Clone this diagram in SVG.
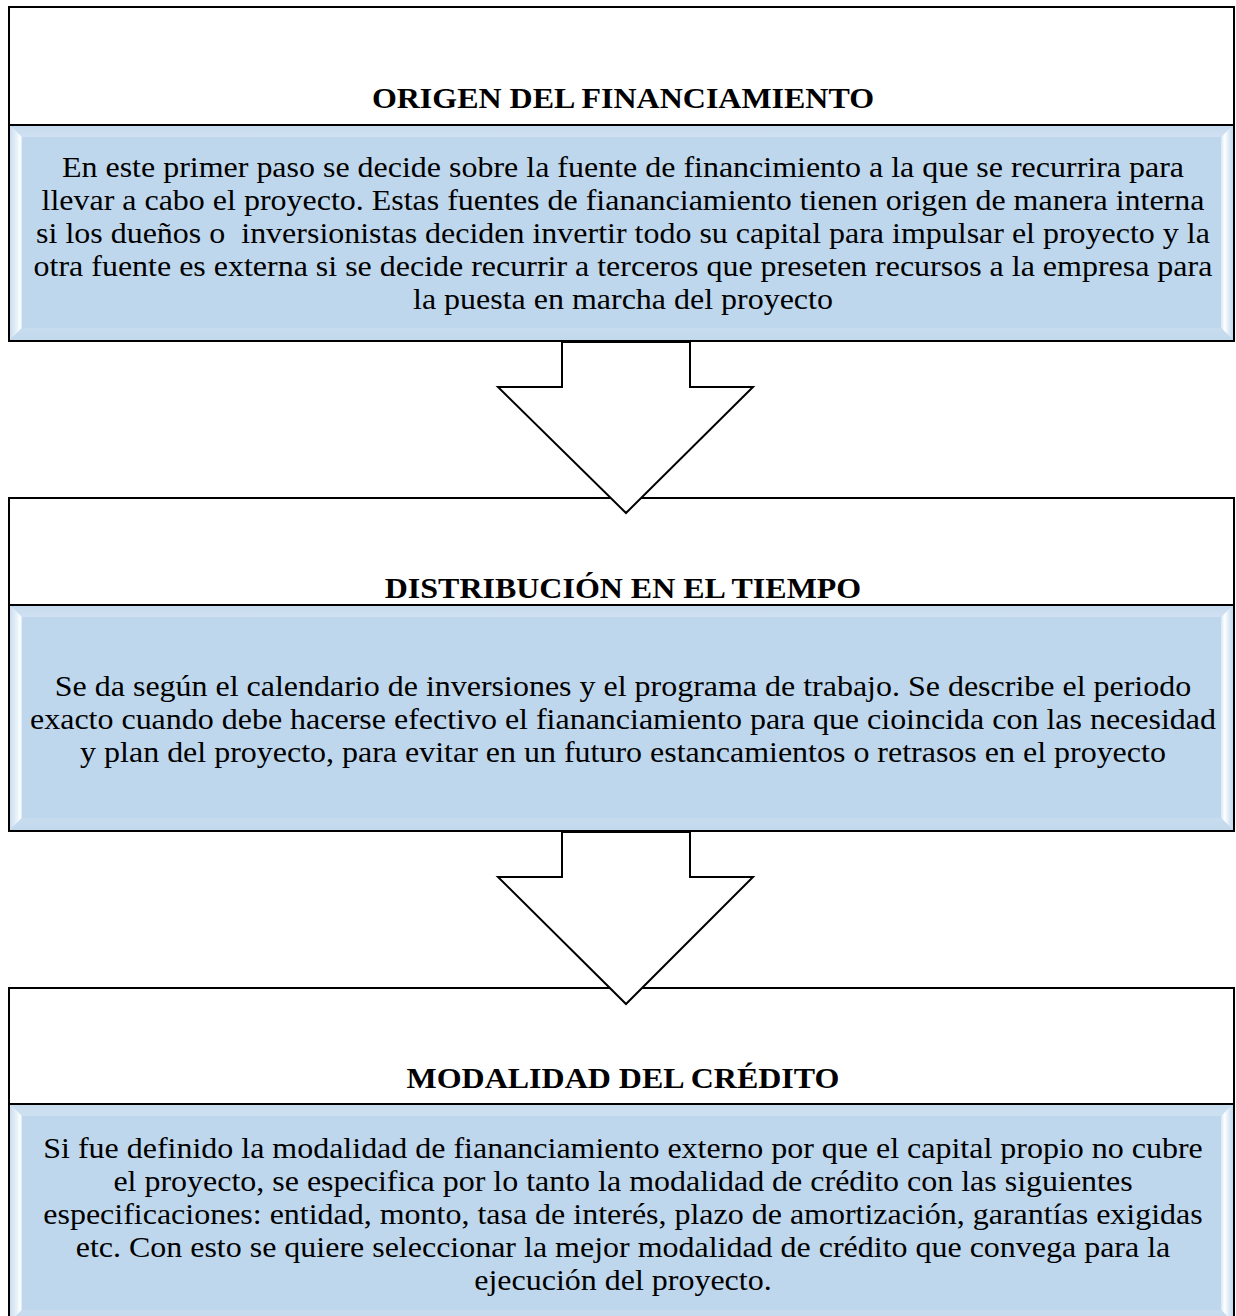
<svg xmlns="http://www.w3.org/2000/svg" width="1236" height="1316" viewBox="0 0 1236 1316">
<style>
.frame{fill:#fff;stroke:#000;stroke-width:2}
.div{stroke:#000;stroke-width:2}
.body{fill:#BFD7EC}
.title{font-family:"Liberation Serif","Times New Roman",serif;font-weight:bold;font-size:29px;fill:#000;text-anchor:middle}
.txt{font-family:"Liberation Serif","Times New Roman",serif;font-size:29px;fill:#000;text-anchor:middle;white-space:pre}
.arrow{fill:#fff;stroke:#000;stroke-width:2;stroke-linejoin:miter}
</style>
<defs>
<linearGradient id="gl" x1="0" y1="0" x2="1" y2="0">
<stop offset="0" stop-color="#C9DDEF"/>
<stop offset="0.6" stop-color="#EAF3FB"/>
<stop offset="0.85" stop-color="#FFFFFF"/>
<stop offset="1" stop-color="#D6E6F4"/>
</linearGradient>
<linearGradient id="gr" x1="0" y1="0" x2="1" y2="0">
<stop offset="0" stop-color="#D6E6F4"/>
<stop offset="0.3" stop-color="#FFFFFF"/>
<stop offset="0.7" stop-color="#D9E8F5"/>
<stop offset="1" stop-color="#C2D8EC"/>
</linearGradient>
<linearGradient id="gt" x1="0" y1="0" x2="0" y2="1">
<stop offset="0" stop-color="#C6DBEE"/>
<stop offset="1" stop-color="#CFE1F1"/>
</linearGradient>
<linearGradient id="gb" x1="0" y1="0" x2="0" y2="1">
<stop offset="0" stop-color="#C8DCEE"/>
<stop offset="1" stop-color="#C2D8EC"/>
</linearGradient>
</defs>

<g id="node1">
<rect class="frame" x="9" y="7" width="1225" height="334"/>
<rect class="body" x="10" y="125" width="1223" height="215"/>
<polygon fill="url(#gt)" points="10,125 1233,125 1221,137 22,137"/>
<polygon fill="url(#gl)" points="10,125 22,137 22,328 10,340"/>
<polygon fill="url(#gr)" points="1233,125 1221,137 1221,328 1233,340"/>
<polygon fill="url(#gb)" points="10,340 22,328 1221,328 1233,340"/>
<line class="div" x1="9" y1="125" x2="1234" y2="125"/>
<g transform="matrix(1.103,0,0,1,-64.17,0)">
<text class="title" x="623" y="108">ORIGEN DEL FINANCIAMIENTO</text>
<text class="txt" x="623" y="177">En este primer paso se decide sobre la fuente de financimiento a la que se recurrira para</text>
<text class="txt" x="623" y="210">llevar a cabo el proyecto. Estas fuentes de fiananciamiento tienen origen de manera interna</text>
<text class="txt" x="623" y="243">si los dueños o  inversionistas deciden invertir todo su capital para impulsar el proyecto y la</text>
<text class="txt" x="623" y="276">otra fuente es externa si se decide recurrir a terceros que preseten recursos a la empresa para</text>
<text class="txt" x="623" y="309">la puesta en marcha del proyecto</text>
</g>
</g>

<g id="node2">
<rect class="frame" x="9" y="498" width="1225" height="333"/>
<rect class="body" x="10" y="605" width="1223" height="225"/>
<polygon fill="url(#gt)" points="10,605 1233,605 1221,617 22,617"/>
<polygon fill="url(#gl)" points="10,605 22,617 22,818 10,830"/>
<polygon fill="url(#gr)" points="1233,605 1221,617 1221,818 1233,830"/>
<polygon fill="url(#gb)" points="10,830 22,818 1221,818 1233,830"/>
<line class="div" x1="9" y1="605" x2="1234" y2="605"/>
<g transform="matrix(1.103,0,0,1,-64.17,0)">
<text class="title" x="623" y="598">DISTRIBUCIÓN EN EL TIEMPO</text>
<text class="txt" x="623" y="696">Se da según el calendario de inversiones y el programa de trabajo. Se describe el periodo</text>
<text class="txt" x="623" y="729">exacto cuando debe hacerse efectivo el fiananciamiento para que cioincida con las necesidad</text>
<text class="txt" x="623" y="762">y plan del proyecto, para evitar en un futuro estancamientos o retrasos en el proyecto</text>
</g>
</g>

<g id="node3">
<rect class="frame" x="9" y="988" width="1225" height="340"/>
<rect class="body" x="10" y="1104" width="1223" height="220"/>
<polygon fill="url(#gt)" points="10,1104 1233,1104 1221,1116 22,1116"/>
<polygon fill="url(#gl)" points="10,1104 22,1116 22,1310 10,1322"/>
<polygon fill="url(#gr)" points="1233,1104 1221,1116 1221,1310 1233,1322"/>
<polygon fill="url(#gb)" points="10,1322 22,1310 1221,1310 1233,1322"/>
<line class="div" x1="9" y1="1104" x2="1234" y2="1104"/>
<g transform="matrix(1.103,0,0,1,-64.17,0)">
<text class="title" x="623" y="1088">MODALIDAD DEL CRÉDITO</text>
<text class="txt" x="623" y="1158">Si fue definido la modalidad de fiananciamiento externo por que el capital propio no cubre</text>
<text class="txt" x="623" y="1191">el proyecto, se especifica por lo tanto la modalidad de crédito con las siguientes</text>
<text class="txt" x="623" y="1224">especificaciones: entidad, monto, tasa de interés, plazo de amortización, garantías exigidas</text>
<text class="txt" x="623" y="1257">etc. Con esto se quiere seleccionar la mejor modalidad de crédito que convega para la</text>
<text class="txt" x="623" y="1290">ejecución del proyecto.</text>
</g>
</g>

<g id="connectors">
<polygon class="arrow" points="562,342 562,387 498,387 626,513 753,387 690,387 690,342"/>
<polygon class="arrow" points="562,832 562,877 498,877 626,1004 753,877 690,877 690,832"/>
</g>
</svg>
